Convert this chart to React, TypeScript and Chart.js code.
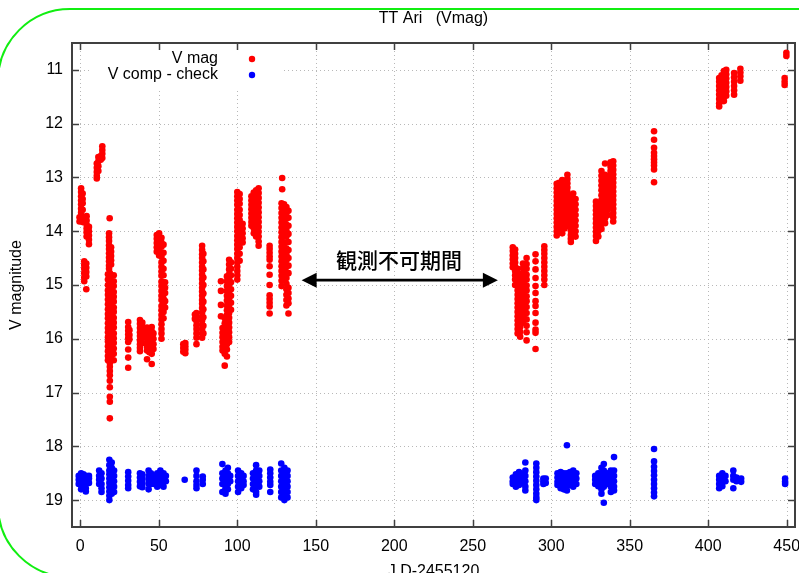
import { useEffect, useRef } from "react";
import { Chart, registerables } from "chart.js";

Chart.register(...registerables);

type Col = [number, number[]];

// ---- axis ticks ----
const xTicks = [0, 50, 100, 150, 200, 250, 300, 350, 400, 450];
const yTicks = [11, 12, 13, 14, 15, 16, 17, 18, 19];

// ---- V mag (red), first season: [JD-2455120, magnitudes...] ----
const vmagSeason1: Col[] = [
  [0.5, [13.2, 13.27, 13.35, 13.43, 13.5, 13.58, 13.65, 13.72, 13.8]],
  [1.5, [13.3, 13.4, 13.48, 13.6, 13.74, 13.83]],
  [-0.5, [13.74, 13.82]],
  [4, [13.72, 13.8, 13.88, 13.95, 14.02, 14.1]],
  [5.5, [13.92, 14.0, 14.08, 14.16, 14.24]],
  [2.5, [14.56, 14.63, 14.7, 14.78, 14.86, 14.93]],
  [3.8, [14.6, 14.68, 14.76, 14.84, 15.08]],
  [10.5, [12.74, 12.82, 12.9, 12.97, 13.02]],
  [11.5, [12.62, 12.7, 12.79, 12.88]],
  [13, [12.6, 12.67]],
  [14, [12.42, 12.49, 12.56, 12.64]],
  [18.7, [13.76]],
  [18.3, [14.04, 14.11, 14.18, 14.26, 14.33, 14.41, 14.49, 14.56, 14.64, 14.7]],
  [19.6, [14.3, 14.38, 14.46, 14.54, 14.62]],
  [17.6, [14.8, 14.9, 15.0, 15.1, 15.18, 15.27, 15.36, 15.45, 15.54, 15.62, 15.71, 15.8, 15.88, 15.97, 16.05, 16.14, 16.23, 16.32, 16.4]],
  [18.8, [14.78, 14.87, 14.95, 15.04, 15.12, 15.21, 15.3, 15.39, 15.47, 15.56, 15.65, 15.73, 15.82, 15.91, 16.0, 16.09, 16.17, 16.26, 16.35, 16.45, 16.52, 16.6, 16.68, 16.78, 16.9, 17.08, 17.17, 17.48]],
  [20, [14.95, 15.05, 15.14, 15.23, 15.32, 15.4, 15.5, 15.58, 15.67, 15.76, 15.85, 15.94, 16.02, 16.11, 16.2, 16.3]],
  [21.3, [14.82, 14.93, 15.02, 15.13, 15.22, 15.31, 15.42, 15.5, 15.61, 15.7, 15.79, 15.9, 15.99, 16.08, 16.18, 16.28, 16.4]],
  [30.5, [15.69, 15.78, 15.85, 15.92, 15.99, 16.06, 16.2, 16.35, 16.54]],
  [31.3, [15.84, 15.93, 16.01]],
  [38, [15.65, 15.72, 15.8, 15.88, 15.95, 16.03, 16.1, 16.17, 16.23]],
  [39.5, [15.7, 15.79, 15.88, 15.98, 16.08]],
  [42.5, [15.79, 15.86, 15.93, 16.0, 16.08, 16.15, 16.22, 16.38]],
  [44, [15.81, 15.9, 15.98, 16.06, 16.14, 16.25]],
  [45.5, [15.78, 15.86, 15.95, 16.03, 16.12, 16.2, 16.28, 16.47]],
  [46.6, [15.9, 16.0, 16.1, 16.19]],
  [48.7, [14.07, 14.14, 14.22, 14.3, 14.38]],
  [50.2, [14.04, 14.12, 14.2, 14.28, 14.35, 14.45]],
  [51.7, [14.12, 14.21, 14.29, 14.4, 14.47, 14.58, 14.66, 14.75, 14.83, 14.94, 15.02, 15.11, 15.2, 15.28, 15.39, 15.47, 15.56, 15.64, 15.73, 15.82, 15.9, 16.0]],
  [53, [14.25, 14.4, 14.55, 14.7, 14.82, 14.95, 15.05, 15.15, 15.25, 15.38, 15.5, 15.62]],
  [54, [14.95, 15.05, 15.15, 15.3, 15.42]],
  [65.6, [16.1, 16.17, 16.24]],
  [66.9, [16.08, 16.14, 16.2, 16.27]],
  [74, [15.52, 15.6, 15.67, 15.75, 15.82, 15.9, 15.98, 16.1]],
  [73, [15.55, 15.63]],
  [77.6, [14.27, 14.35, 14.43, 14.5, 14.58, 14.66, 14.73, 14.81, 14.89, 14.97, 15.05, 15.12, 15.2, 15.28, 15.35, 15.43, 15.51, 15.59, 15.66, 15.74, 15.82, 15.9, 15.98]],
  [78.4, [14.42, 14.56, 14.71, 14.86, 15.0, 15.16, 15.31, 15.45, 15.6, 15.76, 15.9]],
  [89.6, [14.93, 15.11, 15.37, 15.58]],
  [90.6, [15.8, 15.89, 15.97, 16.06, 16.15, 16.22]],
  [92, [15.62, 15.71, 15.8, 15.9, 15.99, 16.08, 16.18, 16.28, 16.5]],
  [93.4, [14.84, 14.93, 15.02, 15.11, 15.2, 15.29, 15.38, 15.47, 15.56, 15.65, 15.74, 15.83, 15.92, 16.01, 16.1, 16.2, 16.33]],
  [94.8, [14.53, 14.62, 14.71, 14.8, 14.89, 14.98, 15.07, 15.16, 15.25, 15.34, 15.43, 15.52, 15.61, 15.7, 15.79, 15.88, 15.97, 16.06]],
  [96, [14.58, 14.7, 14.82, 14.95, 15.08, 15.2, 15.33, 15.46]],
  [100, [13.27, 13.35, 13.43, 13.51, 13.6, 13.68, 13.76, 13.84, 13.92, 14.0, 14.09, 14.17, 14.25, 14.33, 14.42, 14.5, 14.58, 14.66, 14.74, 14.82, 14.9]],
  [101.5, [13.31, 13.4, 13.49, 13.6, 13.7, 13.79, 13.9, 14.0, 14.1, 14.21, 14.3, 14.42, 14.55]],
  [103.4, [13.86, 13.95, 14.04, 14.13, 14.21]],
  [109, [13.35, 13.43, 13.51, 13.59, 13.67, 13.75, 13.83, 13.9]],
  [110.5, [13.28, 13.36, 13.45, 13.53, 13.62, 13.7, 13.78, 13.86, 13.95, 14.04]],
  [112, [13.24, 13.33, 13.42, 13.5, 13.59, 13.68, 13.77, 13.85, 13.94, 14.03, 14.1]],
  [113.6, [13.2, 13.29, 13.38, 13.47, 13.56, 13.65, 13.74, 13.83, 13.92, 14.01, 14.1, 14.19, 14.27]],
  [120.6, [14.27, 14.33, 14.4, 14.47, 14.53, 14.65, 14.81, 15.0, 15.19, 15.26, 15.33, 15.4, 15.53]],
  [128.6, [13.01, 13.22]],
  [128.2, [13.48, 13.57, 13.66, 13.75, 13.84, 13.93, 14.02, 14.11, 14.2, 14.29, 14.38, 14.47, 14.56, 14.65, 14.74, 14.83, 14.92, 15.02]],
  [129.8, [13.5, 13.61, 13.7, 13.81, 13.9, 14.01, 14.1, 14.21, 14.3, 14.41, 14.5, 14.61, 14.7, 14.81, 14.9]],
  [131.3, [13.55, 13.66, 13.77, 13.88, 13.99, 14.1, 14.21, 14.32, 14.43, 14.54, 14.65, 14.76, 14.87, 14.98, 15.08, 15.18, 15.28, 15.38]],
  [132.6, [13.62, 13.75, 13.9, 14.05, 14.2, 14.35, 14.5, 14.64, 14.78, 15.05, 15.15, 15.25, 15.34, 15.53]],
];

// ---- V mag (red), second season ----
const vmagSeason2: Col[] = [
  [275.5, [14.3, 14.37, 14.45, 14.52, 14.6, 14.67]],
  [277, [14.34, 14.42, 14.5, 14.58, 14.66, 14.74, 14.82, 14.9, 15.0]],
  [278.6, [14.7, 14.78, 14.86, 14.94, 15.02, 15.1, 15.18, 15.26, 15.34, 15.42, 15.5, 15.58, 15.66, 15.74, 15.82, 15.9]],
  [280.2, [14.8, 14.88, 14.97, 15.06, 15.15, 15.24, 15.33, 15.42, 15.51, 15.6, 15.69, 15.78, 15.87, 15.96]],
  [282, [14.6, 14.69, 14.78, 14.87, 14.96, 15.05, 15.14, 15.23, 15.32, 15.41, 15.5, 15.6, 15.7]],
  [284.3, [14.5, 14.61, 14.7, 14.81, 14.9, 15.01, 15.1, 15.21, 15.3, 15.41, 15.52, 15.64, 15.76, 15.88, 16.03]],
  [290, [14.43, 14.56, 14.71, 14.87, 15.02, 15.15, 15.3, 15.39, 15.52, 15.7, 15.83, 15.89, 16.19]],
  [295.6, [14.28, 14.35, 14.42, 14.5, 14.58, 14.66, 14.74, 14.82, 14.9, 15.0]],
  [303.5, [13.12, 13.2, 13.28, 13.36, 13.44, 13.52, 13.6, 13.68, 13.76, 13.84, 13.92, 14.0, 14.08]],
  [305, [13.1, 13.18, 13.26, 13.34, 13.42, 13.5, 13.58, 13.66, 13.74, 13.82, 13.9, 13.98]],
  [307, [13.05, 13.14, 13.23, 13.32, 13.41, 13.5, 13.59, 13.68, 13.77, 13.86, 13.95, 14.04]],
  [308.5, [13.15, 13.25, 13.35, 13.45, 13.55, 13.65, 13.75, 13.85, 13.95]],
  [310.3, [12.95, 13.03, 13.11, 13.19, 13.27, 13.35, 13.43, 13.51, 13.59, 13.67, 13.75, 13.83, 13.9]],
  [312.5, [13.35, 13.43, 13.51, 13.59, 13.67, 13.75, 13.83, 13.91, 13.99, 14.07, 14.14, 14.2]],
  [314, [13.3, 13.4, 13.5, 13.6, 13.7, 13.8, 13.9, 14.0]],
  [315.5, [13.4, 13.5, 13.6, 13.7, 13.8, 13.9, 14.0, 14.1]],
  [328.5, [13.45, 13.53, 13.61, 13.69, 13.77, 13.85, 13.93, 14.01, 14.09, 14.18]],
  [330, [13.5, 13.6, 13.7, 13.8, 13.9, 14.0, 14.1]],
  [332, [12.88, 12.97, 13.06, 13.15, 13.24, 13.33, 13.42, 13.51, 13.6, 13.69, 13.78, 13.87, 13.96]],
  [334.3, [12.74, 12.95, 13.04, 13.13, 13.22, 13.31, 13.4, 13.49, 13.58, 13.67, 13.76, 13.85]],
  [336, [13.0, 13.1, 13.2, 13.3, 13.4, 13.5, 13.6, 13.7]],
  [337.8, [12.72, 12.8, 12.88, 12.96, 13.04, 13.12, 13.2, 13.28, 13.36, 13.44, 13.52]],
  [339.5, [12.7, 12.78, 12.86, 12.94, 13.02, 13.1, 13.18, 13.26, 13.34, 13.42, 13.5, 13.58, 13.66, 13.74, 13.82]],
  [365.5, [12.14, 12.3, 12.45, 12.54, 12.6, 12.66, 12.72, 12.78, 12.85, 13.09]],
  [407, [11.15, 11.22, 11.3, 11.38, 11.46, 11.54, 11.62, 11.68]],
  [408.5, [11.1, 11.2, 11.3, 11.4, 11.5, 11.58]],
  [410, [11.02, 11.1, 11.18, 11.26, 11.34, 11.42, 11.5, 11.58]],
  [411.5, [11.0, 11.08, 11.16, 11.24, 11.32, 11.4, 11.48]],
  [416.5, [11.06, 11.14, 11.22, 11.3, 11.38, 11.46]],
  [420.5, [10.98, 11.05, 11.12, 11.2]],
  [449.8, [10.68, 10.74]],
  [448.7, [11.15, 11.22, 11.28]],
];

// ---- V comp - check (blue) ----
const checkSeason1: Col[] = [
  [-1, [18.55, 18.62, 18.7]],
  [0.5, [18.5, 18.58, 18.65, 18.72, 18.8]],
  [2, [18.52, 18.6, 18.68]],
  [3.5, [18.55, 18.63, 18.7, 18.78, 18.84]],
  [5.5, [18.55, 18.6, 18.68]],
  [12, [18.45, 18.55, 18.62, 18.7]],
  [13.5, [18.5, 18.6, 18.7, 18.78, 18.85]],
  [18.5, [18.25, 18.35, 18.45, 18.52, 18.6, 18.68, 18.76, 18.84, 18.92, 19.0]],
  [20, [18.3, 18.4, 18.5, 18.6, 18.7, 18.8, 18.88]],
  [21.5, [18.45, 18.55, 18.65, 18.75, 18.85]],
  [30.5, [18.48, 18.56, 18.64, 18.72, 18.78]],
  [38, [18.5, 18.58, 18.66, 18.74]],
  [39.5, [18.52, 18.6, 18.68, 18.76]],
  [43.5, [18.45, 18.55, 18.62, 18.7, 18.8]],
  [45, [18.5, 18.6, 18.7]],
  [47, [18.55, 18.62, 18.7]],
  [49, [18.5, 18.6, 18.68, 18.75]],
  [51, [18.45, 18.55, 18.65, 18.72]],
  [53, [18.5, 18.58, 18.66, 18.75]],
  [54.5, [18.55, 18.65]],
  [66.5, [18.62]],
  [74, [18.45, 18.55, 18.65, 18.72, 18.78]],
  [78, [18.56, 18.62, 18.7]],
  [90.5, [18.33, 18.5, 18.6, 18.7, 18.85]],
  [92.5, [18.45, 18.55, 18.62, 18.7, 18.78, 18.88]],
  [94, [18.4, 18.5, 18.6, 18.7, 18.8]],
  [95.5, [18.55, 18.65]],
  [100.5, [18.45, 18.55, 18.65, 18.75, 18.85]],
  [102.5, [18.5, 18.6, 18.7, 18.78]],
  [104, [18.55, 18.65, 18.72]],
  [110, [18.5, 18.6, 18.7, 18.8]],
  [112, [18.35, 18.45, 18.55, 18.65, 18.75, 18.85, 18.9]],
  [114, [18.45, 18.55, 18.65, 18.75]],
  [121, [18.43, 18.5, 18.58, 18.66, 18.72, 18.85]],
  [128, [18.32, 18.45, 18.55, 18.65, 18.75, 18.85, 18.95]],
  [130, [18.4, 18.5, 18.6, 18.7, 18.8, 18.9, 19.0]],
  [132, [18.45, 18.55, 18.65, 18.75, 18.85, 18.95]],
];

const checkSeason2: Col[] = [
  [275.5, [18.58, 18.65, 18.7]],
  [277.5, [18.52, 18.6, 18.68, 18.75]],
  [279.5, [18.48, 18.56, 18.64, 18.72]],
  [281.5, [18.52, 18.6, 18.68]],
  [283.5, [18.3, 18.45, 18.55, 18.65, 18.75, 18.82]],
  [290.5, [18.32, 18.4, 18.48, 18.56, 18.64, 18.72, 18.8, 18.88, 18.95, 19.0]],
  [295, [18.6, 18.65, 18.7]],
  [296.5, [18.6, 18.68]],
  [304, [18.5, 18.58, 18.66, 18.72]],
  [306, [18.48, 18.56, 18.64, 18.72, 18.78]],
  [308, [18.5, 18.6, 18.7, 18.8]],
  [310, [17.98, 18.5, 18.58, 18.66, 18.74, 18.82]],
  [312, [18.48, 18.56, 18.64, 18.72]],
  [314, [18.45, 18.55, 18.65, 18.75]],
  [316, [18.5, 18.6, 18.7]],
  [328, [18.55, 18.62, 18.7]],
  [330, [18.5, 18.58, 18.66, 18.74]],
  [332, [18.4, 18.5, 18.6, 18.7, 18.8, 18.88]],
  [333.5, [18.33, 18.45, 18.55, 18.65, 18.75, 19.05]],
  [336, [18.5, 18.6, 18.7]],
  [338, [18.45, 18.55, 18.65, 18.75, 18.85]],
  [340, [18.2, 18.45, 18.55, 18.65, 18.75, 18.82]],
  [365.5, [18.05, 18.28, 18.38, 18.46, 18.54, 18.62, 18.7, 18.78, 18.86, 18.93]],
  [407, [18.55, 18.62, 18.7, 18.78]],
  [409, [18.5, 18.58, 18.66, 18.74]],
  [411, [18.55, 18.65]],
  [416, [18.45, 18.55, 18.62, 18.78]],
  [418, [18.58, 18.65]],
  [421, [18.6, 18.66]],
  [449, [18.6, 18.66, 18.7]],
];

// ---- annotation (data coordinates) ----
const gapLabel = "観測不可期間";
const gapStart = 141;
const gapEnd = 266;
const gapMag = 14.91;
const gapLabelX = 203;
const gapLabelMag = 14.53;

const titleText = "TT Ari   (Vmag)";
const xTitle = "J.D-2455120";
const yTitle = "V magnitude";
const seriesNames = ["V mag", "V comp - check"];
const seriesColors = ["#ff0000", "#0000ff"];

const FONT = '"Liberation Sans", Arial, Helvetica, sans-serif';

function toPoints(cols: Col[]) {
  const pts: { x: number; y: number }[] = [];
  cols.forEach(([x, ys]) => ys.forEach((y) => pts.push({ x, y })));
  return pts;
}

const decor = {
  id: "decor",
  beforeDatasetsDraw(chart: any) {
    const { ctx, chartArea: a, scales } = chart;
    const xs = scales.x;
    const ys = scales.y;
    ctx.save();
    ctx.strokeStyle = "#b8b8b8";
    ctx.lineWidth = 1;
    ctx.setLineDash([1, 3]);
    xTicks.forEach((v) => {
      const px = Math.round(xs.getPixelForValue(v)) + 0.5;
      ctx.beginPath();
      ctx.moveTo(px, a.top);
      ctx.lineTo(px, a.bottom);
      ctx.stroke();
    });
    yTicks.forEach((v) => {
      const py = Math.round(ys.getPixelForValue(v)) + 0.5;
      ctx.beginPath();
      ctx.moveTo(a.left, py);
      ctx.lineTo(a.right, py);
      ctx.stroke();
    });
    ctx.restore();
  },
  afterDatasetsDraw(chart: any) {
    const { ctx, chartArea: a, scales } = chart;
    const xs = scales.x;
    const ys = scales.y;
    ctx.save();

    // legend (opaque key box)
    ctx.fillStyle = "#ffffff";
    ctx.fillRect(92, a.top + 2, 190, 46);
    ctx.font = `16px ${FONT}`;
    ctx.textAlign = "right";
    ctx.textBaseline = "middle";
    seriesNames.forEach((n, i) => {
      const yy = 59 + i * 16;
      ctx.fillStyle = "#000";
      ctx.fillText(n, 218, yy);
      ctx.fillStyle = seriesColors[i];
      ctx.beginPath();
      ctx.arc(252, yy, 3.2, 0, Math.PI * 2);
      ctx.fill();
    });

    // annotation arrow
    const x1 = xs.getPixelForValue(gapStart);
    const x2 = xs.getPixelForValue(gapEnd);
    const ay = ys.getPixelForValue(gapMag);
    const head = 15;
    const hw = 7.5;
    ctx.strokeStyle = "#000";
    ctx.fillStyle = "#000";
    ctx.lineWidth = 2.6;
    ctx.beginPath();
    ctx.moveTo(x1 + head - 2, ay);
    ctx.lineTo(x2 - head + 2, ay);
    ctx.stroke();
    ctx.beginPath();
    ctx.moveTo(x1, ay);
    ctx.lineTo(x1 + head, ay - hw);
    ctx.lineTo(x1 + head, ay + hw);
    ctx.closePath();
    ctx.fill();
    ctx.beginPath();
    ctx.moveTo(x2, ay);
    ctx.lineTo(x2 - head, ay - hw);
    ctx.lineTo(x2 - head, ay + hw);
    ctx.closePath();
    ctx.fill();
    ctx.font = `500 21px "Noto Sans CJK JP", "Noto Sans CJK SC", sans-serif`;
    ctx.textAlign = "center";
    ctx.textBaseline = "middle";
    ctx.fillText(gapLabel, xs.getPixelForValue(gapLabelX), ys.getPixelForValue(gapLabelMag));

    // frame and inward ticks
    ctx.strokeStyle = "#404040";
    ctx.lineWidth = 1.5;
    const tl = 7;
    xTicks.forEach((v) => {
      const px = Math.round(xs.getPixelForValue(v)) + 0.5;
      ctx.beginPath();
      ctx.moveTo(px, a.bottom);
      ctx.lineTo(px, a.bottom - tl);
      ctx.moveTo(px, a.top);
      ctx.lineTo(px, a.top + tl);
      ctx.stroke();
    });
    yTicks.forEach((v) => {
      const py = Math.round(ys.getPixelForValue(v)) + 0.5;
      ctx.beginPath();
      ctx.moveTo(a.left, py);
      ctx.lineTo(a.left + tl, py);
      ctx.moveTo(a.right, py);
      ctx.lineTo(a.right - tl, py);
      ctx.stroke();
    });
    ctx.lineWidth = 2;
    ctx.strokeRect(a.left, a.top, a.right - a.left, a.bottom - a.top);
    ctx.restore();
  },
  afterDraw(chart: any) {
    const { ctx, chartArea: a } = chart;
    ctx.save();
    const cx = (a.left + a.right) / 2;
    ctx.fillStyle = "#000";
    ctx.font = `16px ${FONT}`;
    ctx.textAlign = "center";
    ctx.textBaseline = "middle";
    ctx.fillText(titleText, cx, 19);
    ctx.fillText(xTitle, cx, 572);
    ctx.translate(17, (a.top + a.bottom) / 2);
    ctx.rotate(-Math.PI / 2);
    ctx.fillText(yTitle, 0, 0);
    ctx.restore();

    // green rounded frame
    ctx.save();
    ctx.strokeStyle = "#11ee11";
    ctx.lineWidth = 2;
    ctx.beginPath();
    (ctx as any).roundRect(-2, 9, 900, 568, 72);
    ctx.stroke();
    ctx.restore();
  },
};

export default function App() {
  const ref = useRef<HTMLCanvasElement | null>(null);

  useEffect(() => {
    if (!ref.current) return;
    const chart = new Chart(ref.current, {
      type: "scatter",
      data: {
        datasets: [
          {
            label: seriesNames[0],
            data: [...toPoints(vmagSeason1), ...toPoints(vmagSeason2)],
            backgroundColor: seriesColors[0],
            borderWidth: 0,
            pointRadius: 3.3,
          },
          {
            label: seriesNames[1],
            data: [...toPoints(checkSeason1), ...toPoints(checkSeason2)],
            backgroundColor: seriesColors[1],
            borderWidth: 0,
            pointRadius: 3.3,
          },
        ],
      },
      options: {
        animation: false,
        responsive: false,
        devicePixelRatio: 1,
        layout: { padding: { top: 43, right: 4, left: 0, bottom: 0 } },
        plugins: {
          legend: { display: false },
          title: { display: false },
          tooltip: { enabled: false },
        },
        scales: {
          x: {
            type: "linear",
            min: -5.3,
            max: 455.3,
            grid: { display: false, drawTicks: false },
            border: { display: false },
            ticks: {
              color: "#000",
              font: { family: FONT, size: 16 },
              padding: 10,
              maxRotation: 0,
            },
            afterBuildTicks: (s: any) => {
              s.ticks = xTicks.map((value) => ({ value }));
            },
            afterFit: (s: any) => {
              s.height = 46;
              s.paddingLeft = 0;
              s.paddingRight = 0;
            },
          },
          y: {
            type: "linear",
            reverse: true,
            min: 10.5,
            max: 19.5,
            grid: { display: false, drawTicks: false },
            border: { display: false },
            ticks: {
              color: "#000",
              font: { family: FONT, size: 16 },
              padding: 9,
            },
            afterBuildTicks: (s: any) => {
              s.ticks = yTicks.map((value) => ({ value }));
            },
            afterFit: (s: any) => {
              s.width = 72;
              s.paddingTop = 0;
              s.paddingBottom = 0;
            },
          },
        },
      },
      plugins: [decor],
    });
    return () => chart.destroy();
  }, []);

  return (
    <div style={{ position: "absolute", left: 0, top: 0, width: 799, height: 573, background: "#fff" }}>
      <canvas ref={ref} width={799} height={573} style={{ display: "block" }} />
    </div>
  );
}
